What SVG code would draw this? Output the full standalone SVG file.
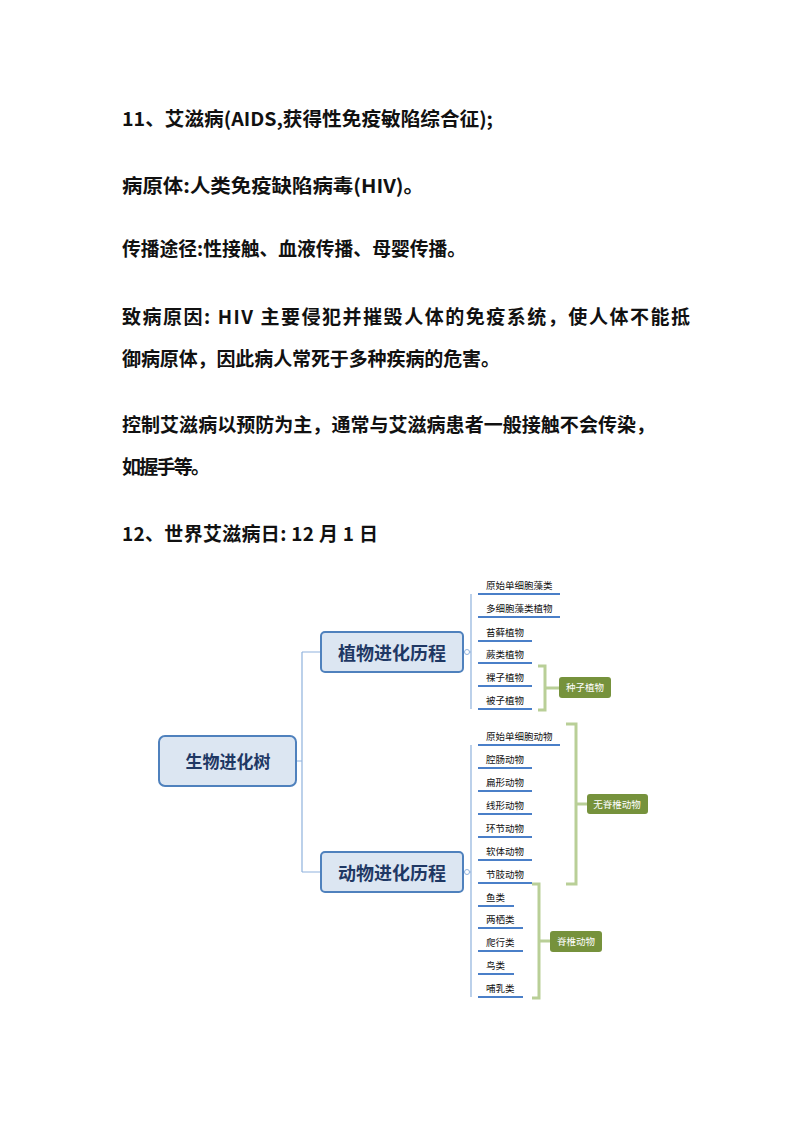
<svg xmlns="http://www.w3.org/2000/svg" width="800" height="1132" viewBox="0 0 800 1132">
<style>
.t{font-family:"Noto Sans CJK SC","Liberation Sans",sans-serif;font-size:19px;font-weight:bold;fill:#111}
.l{font-family:"Noto Sans CJK SC",sans-serif;font-size:9.5px;fill:#111}
.ul{stroke:#4a7fc8;stroke-width:2}
.br{fill:none;stroke:#b9cf97;stroke-width:3}
.ln{fill:none;stroke:#8fb2dd;stroke-width:1.2}
.g{fill:#76923c}
.gt{font-family:"Noto Sans CJK SC",sans-serif;font-size:9.5px;fill:#fff;text-anchor:middle}
.mb{fill:#dce6f2;stroke:#4f81bd;stroke-width:2}
.mt{font-family:"Noto Sans CJK SC",sans-serif;font-weight:bold;fill:#1f3864;text-anchor:middle}
</style>
<rect width="800" height="1132" fill="#fff"/>
<text class="t" x="122" y="126" textLength="371" lengthAdjust="spacingAndGlyphs">11、艾滋病(AIDS,获得性免疫敏陷综合征);</text>
<text class="t" x="122" y="193" textLength="302" lengthAdjust="spacingAndGlyphs">病原体:人类免疫缺陷病毒(HIV)。</text>
<text class="t" x="122" y="256" textLength="344" lengthAdjust="spacingAndGlyphs">传播途径:性接触、血液传播、母婴传播。</text>
<text class="t" x="122" y="324" textLength="568" lengthAdjust="spacing">致病原因: HIV 主要侵犯并摧毁人体的免疫系统，使人体不能抵</text>
<text class="t" x="122" y="366" textLength="378" lengthAdjust="spacing">御病原体，因此病人常死于多种疾病的危害。</text>
<text class="t" x="122" y="432" textLength="533" lengthAdjust="spacing">控制艾滋病以预防为主，通常与艾滋病患者一般接触不会传染，</text>
<text class="t" x="122" y="474" textLength="88" lengthAdjust="spacing">如握手等。</text>
<text class="t" x="122" y="541" textLength="256" lengthAdjust="spacing">12、世界艾滋病日: 12 月 1 日</text>
<g id="connectors">
<path class="ln" d="M296 761H302M302 652V872M302 652H321M302 872H321"/>
<path class="ln" d="M463 652H471M471 594V709M463 872H471M471 745V997"/>
<g class="ul">
<line x1="478" y1="594" x2="560" y2="594"/><line x1="478" y1="617" x2="560" y2="617"/>
<line x1="478" y1="641" x2="532" y2="641"/><line x1="478" y1="663" x2="532" y2="663"/>
<line x1="478" y1="686" x2="532" y2="686"/><line x1="478" y1="709" x2="532" y2="709"/>
<line x1="478" y1="745" x2="560" y2="745"/><line x1="478" y1="768" x2="532" y2="768"/>
<line x1="478" y1="791" x2="532" y2="791"/><line x1="478" y1="814" x2="532" y2="814"/>
<line x1="478" y1="837" x2="532" y2="837"/><line x1="478" y1="860" x2="532" y2="860"/>
<line x1="478" y1="883" x2="532" y2="883"/><line x1="478" y1="906" x2="514" y2="906"/>
<line x1="478" y1="928" x2="523" y2="928"/><line x1="478" y1="951" x2="523" y2="951"/>
<line x1="478" y1="974" x2="514" y2="974"/><line x1="478" y1="997" x2="523" y2="997"/>
</g>
<path class="br" d="M538 666H545V710H538M545 688H559"/>
<path class="br" d="M566 724H576V884H566M576 804H587"/>
<path class="br" d="M532 884H539V998H532M539 941H550"/>
<circle cx="467" cy="652" r="2.5" fill="#fff" stroke="#8fb2dd"/>
<circle cx="467" cy="872" r="2.5" fill="#fff" stroke="#8fb2dd"/>
</g>
<g id="root"><rect class="mb" x="159" y="736" width="137" height="50" rx="6"/><text class="mt" x="228" y="768" font-size="17">生物进化树</text></g>
<g id="plant"><rect class="mb" x="321" y="632" width="142" height="40" rx="4" stroke-width="1.3"/><text class="mt" x="392" y="660" font-size="18">植物进化历程</text></g>
<g id="animal"><rect class="mb" x="321" y="852" width="142" height="40" rx="4" stroke-width="1.3"/><text class="mt" x="392" y="880" font-size="18">动物进化历程</text></g>
<g id="leaves">
<text class="l" x="486" y="589">原始单细胞藻类</text><text class="l" x="486" y="612">多细胞藻类植物</text>
<text class="l" x="486" y="636">苔藓植物</text><text class="l" x="486" y="658">蕨类植物</text>
<text class="l" x="486" y="681">裸子植物</text><text class="l" x="486" y="704">被子植物</text>
<text class="l" x="486" y="740">原始单细胞动物</text><text class="l" x="486" y="763">腔肠动物</text>
<text class="l" x="486" y="786">扁形动物</text><text class="l" x="486" y="809">线形动物</text>
<text class="l" x="486" y="832">环节动物</text><text class="l" x="486" y="855">软体动物</text>
<text class="l" x="486" y="878">节肢动物</text><text class="l" x="486" y="901">鱼类</text>
<text class="l" x="486" y="923">两栖类</text><text class="l" x="486" y="946">爬行类</text>
<text class="l" x="486" y="969">鸟类</text><text class="l" x="486" y="992">哺乳类</text>
</g>
<g id="seed"><rect class="g" x="559" y="677" width="52" height="21" rx="3"/><text class="gt" x="585" y="691">种子植物</text></g>
<g id="invert"><rect class="g" x="587" y="794" width="61" height="20" rx="3"/><text class="gt" x="617" y="808">无脊椎动物</text></g>
<g id="vert"><rect class="g" x="550" y="931" width="52" height="21" rx="3"/><text class="gt" x="576" y="945">脊椎动物</text></g>
</svg>
